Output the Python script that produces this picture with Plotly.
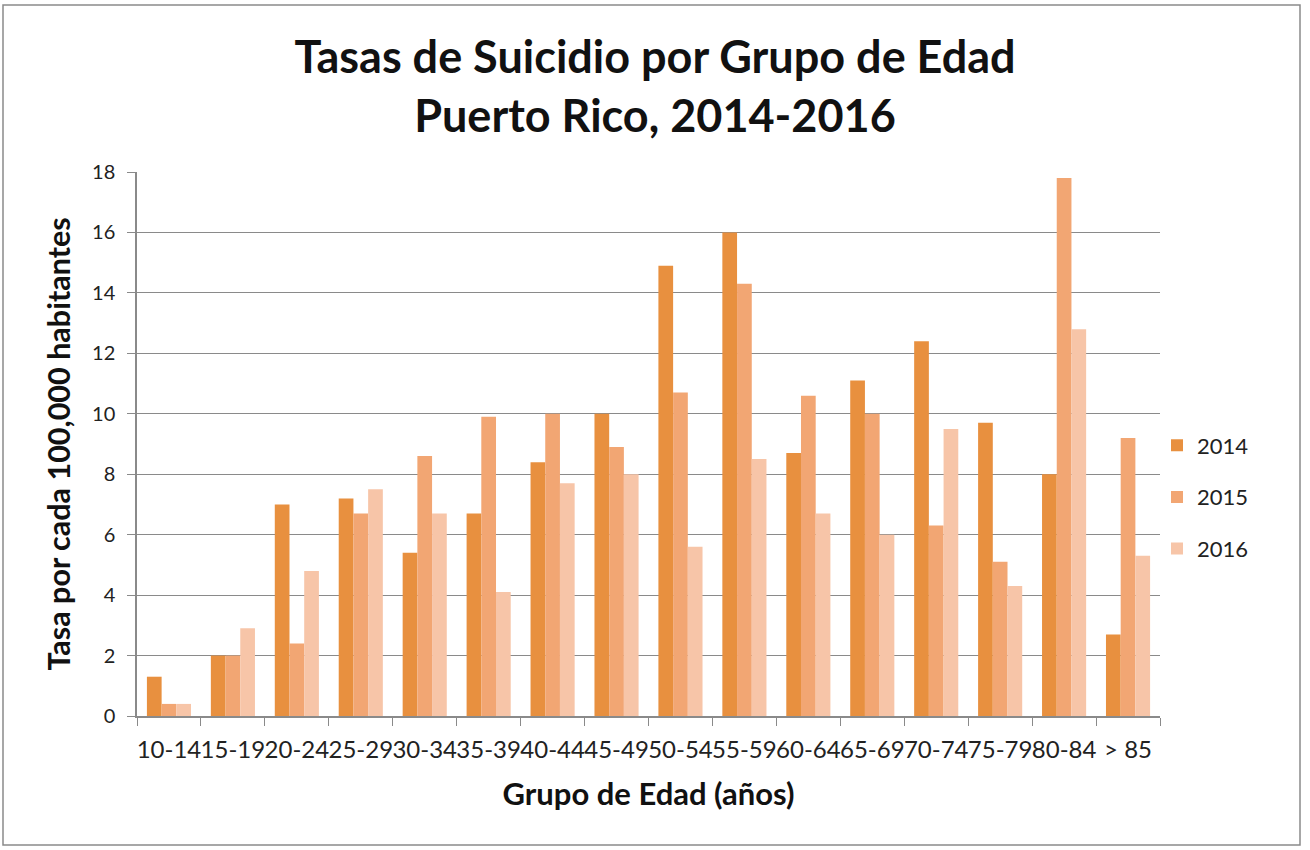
import plotly.graph_objects as go

categories = ["10-14", "15-19", "20-24", "25-29", "30-34", "35-39", "40-44", "45-49",
              "50-54", "55-59", "60-64", "65-69", "70-74", "75-79", "80-84", "> 85"]
rates_2014 = [1.3, 2.0, 7.0, 7.2, 5.4, 6.7, 8.4, 10.0, 14.9, 16.0, 8.7, 11.1, 12.4, 9.7, 8.0, 2.7]
rates_2015 = [0.4, 2.0, 2.4, 6.7, 8.6, 9.9, 10.0, 8.9, 10.7, 14.3, 10.6, 10.0, 6.3, 5.1, 17.8, 9.2]
rates_2016 = [0.4, 2.9, 4.8, 7.5, 6.7, 4.1, 7.7, 8.0, 5.6, 8.5, 6.7, 6.0, 9.5, 4.3, 12.8, 5.3]
series_names = ["2014", "2015", "2016"]
y_ticks = [0, 2, 4, 6, 8, 10, 12, 14, 16, 18]

colors = ["#E8903F", "#F2A673", "#F7C5A8"]
FONT = "Lato"

fig = go.Figure()
for name, vals, col in zip(series_names, [rates_2014, rates_2015, rates_2016], colors):
    fig.add_trace(go.Bar(x=categories, y=vals, name=name, legendgroup=name,
                         marker=dict(color=col, line=dict(width=0))))

W, H = 1310, 850
ml, mr, mt, mb = 137, 150, 172, 134
pw = W - ml - mr
ph = H - mt - mb

def px_x(p):
    return (p - ml) / pw

def px_y(p):
    return (H - mb - p) / ph

fig.add_shape(type="rect", xref="paper", yref="paper",
              x0=px_x(3), x1=px_x(1300), y0=px_y(845), y1=px_y(5),
              line=dict(color="#8a8a8a", width=1.5), fillcolor="rgba(0,0,0,0)", layer="below")

fig.update_layout(
    width=W, height=H,
    margin=dict(l=ml, r=mr, t=mt, b=mb),
    paper_bgcolor="white", plot_bgcolor="white",
    barmode="group", bargap=0.31, bargroupgap=0,
    font=dict(family=FONT, color="#222222"),
    title=dict(text="<b>Tasas de Suicidio por Grupo de Edad<br>Puerto Rico, 2014-2016</b>",
               x=0.5, xanchor="center", xref="container", y=1 - 73 / H, yanchor="middle",
               font=dict(family=FONT, size=45, color="#111111")),
    xaxis=dict(showline=True, linecolor="#8a8a8a", linewidth=1.5,
               ticks="outside", tickson="boundaries", ticklen=8, tickcolor="#8a8a8a",
               ticklabelstandoff=11, tickangle=0,
               tickfont=dict(size=24, color="#222222"),
               title=dict(text="<b>Grupo de Edad (años)</b>", font=dict(size=31, color="#111111"), standoff=22),
               showgrid=False),
    yaxis=dict(range=[0, 18], tickvals=y_ticks, showline=True, linecolor="#8a8a8a", linewidth=1.5,
               ticks="outside", ticklen=8, tickcolor="#8a8a8a", ticklabelstandoff=8,
               showgrid=True, gridcolor="#8a8a8a", gridwidth=1.2,
               tickfont=dict(size=20, color="#222222"),
               title=dict(text="<b>Tasa por cada 100,000 habitantes</b>", font=dict(size=30.5, color="#111111"), standoff=12)),
    legend=dict(x=px_x(1157), y=px_y(497), xanchor="left", yanchor="middle",
                traceorder="grouped", tracegroupgap=20,
                font=dict(size=22, color="#222222"), itemsizing="constant",
                itemwidth=30, bgcolor="rgba(0,0,0,0)"),
)

fig.write_html("out.html", config={"displayModeBar": False},
               post_script="document.body.style.margin='0';")
